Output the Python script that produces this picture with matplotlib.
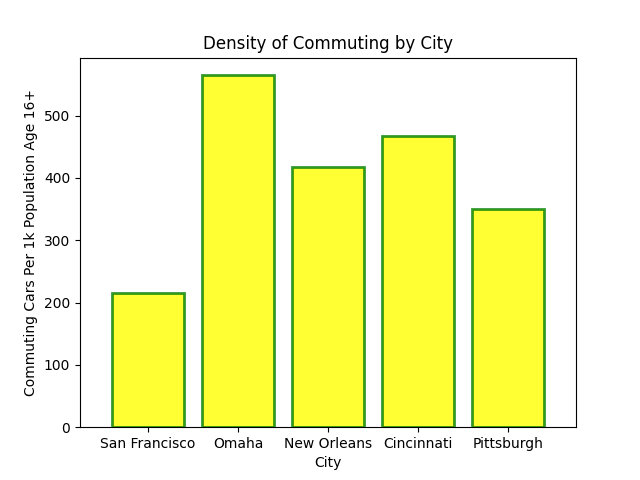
import matplotlib
matplotlib.use("Agg")
import matplotlib.pyplot as plt

cities = ["San Francisco", "Omaha", "New Orleans", "Cincinnati", "Pittsburgh"]
cars_per_1k = [215, 565, 418, 467, 350]

fig, ax = plt.subplots(figsize=(6.4, 4.8), dpi=100)
ax.bar(cities, cars_per_1k, color="yellow", edgecolor="green", linewidth=2, alpha=0.8)
ax.set_xlim(-0.755, len(cities) - 1 + 0.755)
ax.set_title("Density of Commuting by City")
ax.set_xlabel("City")
ax.set_ylabel("Commuting Cars Per 1k Population Age 16+")
plt.savefig("out.png")
